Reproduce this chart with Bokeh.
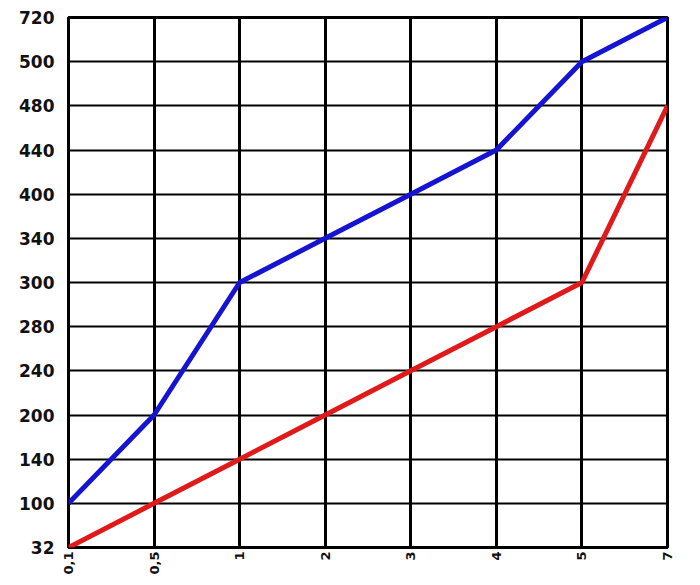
from bokeh.plotting import figure
from bokeh.models import Range1d, FixedTicker
from bokeh.embed import file_html
from bokeh.resources import INLINE
import math

x_labels = ["0,1", "0,5", "1", "2", "3", "4", "5", "7"]
y_labels = ["32", "100", "140", "200", "240", "280", "300", "340", "400", "440", "480", "500", "720"]
blue_values = [100, 200, 300, 340, 400, 440, 500, 720]
red_values = [32, 100, 140, 200, 240, 280, 300, 480]

xs = list(range(len(x_labels)))
blue_y = [y_labels.index(str(v)) for v in blue_values]
red_y = [y_labels.index(str(v)) for v in red_values]

p = figure(width=684, height=577, output_backend="svg", toolbar_location=None,
           x_range=Range1d(0, len(x_labels) - 1), y_range=Range1d(0, len(y_labels) - 1),
           min_border_left=68, min_border_top=17, min_border_right=17, min_border_bottom=28)

p.xaxis.ticker = FixedTicker(ticks=xs)
p.yaxis.ticker = FixedTicker(ticks=list(range(len(y_labels))))
p.xaxis.major_label_overrides = {i: s for i, s in enumerate(x_labels)}
p.yaxis.major_label_overrides = {i: s for i, s in enumerate(y_labels)}

for ax in (p.xaxis, p.yaxis):
    ax.axis_line_color = None
    ax.major_tick_line_color = None
    ax.minor_tick_line_color = None
    ax.major_tick_out = 0
    ax.major_tick_in = 0
    ax.minor_tick_out = 0
    ax.major_label_text_font = "DejaVu Sans"
    ax.major_label_text_font_style = "bold"
    ax.major_label_text_color = "#111111"

p.yaxis.major_label_text_font_size = "17px"
p.yaxis.major_label_standoff = 14
p.xaxis.major_label_text_font_size = "13px"
p.xaxis.major_label_orientation = math.pi / 2
p.xaxis.major_label_standoff = 4

p.xgrid.grid_line_color = "black"
p.xgrid.grid_line_width = 3
p.xgrid.grid_line_alpha = 1
p.ygrid.grid_line_color = "black"
p.ygrid.grid_line_width = 2
p.ygrid.grid_line_alpha = 1

p.outline_line_color = "black"
p.outline_line_width = 3
p.outline_line_alpha = 1
p.background_fill_color = "white"
p.border_fill_color = "white"

p.line(xs, blue_y, line_color="#1414d2", line_width=5)
p.line(xs, red_y, line_color="#e01a1a", line_width=5)

open("out.html", "w").write(file_html(p, INLINE))
